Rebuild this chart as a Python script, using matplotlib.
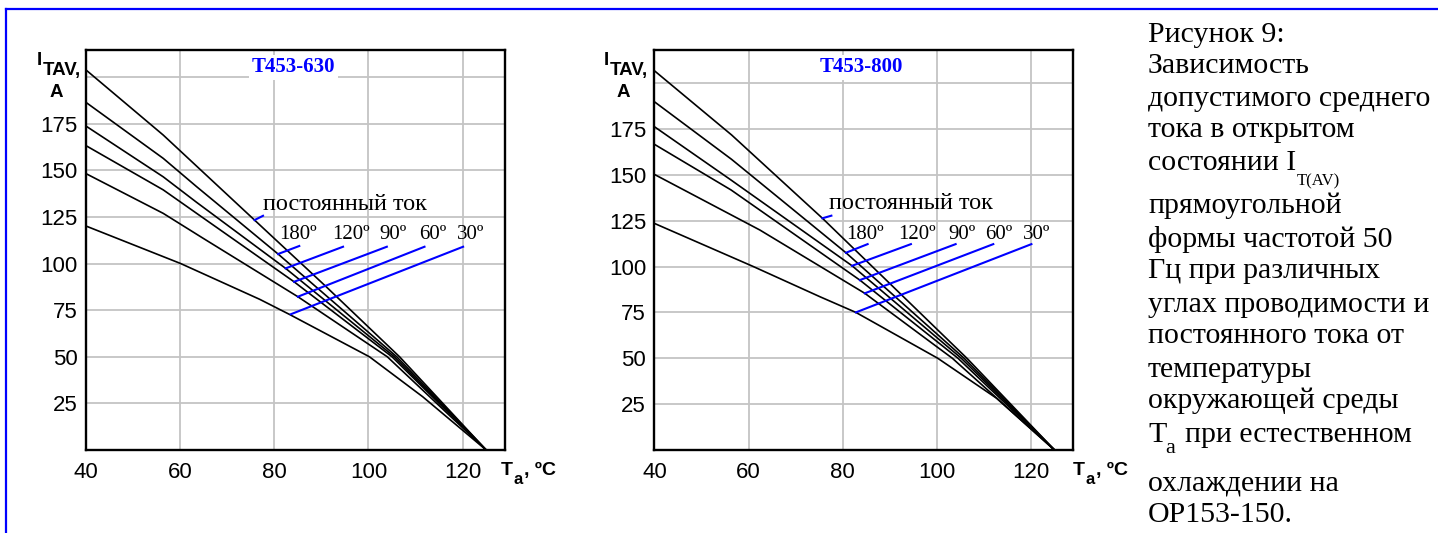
import matplotlib
matplotlib.use("Agg")
import matplotlib.pyplot as plt

# ---------------- data ----------------
x_ticks = [40, 60, 80, 100, 120]
y_ticks = [25, 50, 75, 100, 125, 150, 175, 200]
y_ticklabels = ["25", "50", "75", "100", "125", "150", "175", ""]
angle_labels = ["180º", "120º", "90º", "60º", "30º"]
dc_label = "постоянный ток"

# T453-630 (left)
l_dc_T = [40, 56.4, 75.8, 91.0, 106.6, 125]
l_dc_I = [203.8, 168.9, 123.3, 87.6, 50.0, 0]
l_180_T = [40, 56.4, 63.5, 80.8, 106.0, 125]
l_180_I = [186.4, 156.4, 141.2, 105.1, 50.0, 0]
l_120_T = [40, 56.4, 63.5, 82.4, 105.5, 125]
l_120_I = [173.7, 146.5, 132.8, 97.4, 50.0, 0]
l_90_T = [40, 56.4, 84.2, 105.0, 125]
l_90_I = [163.2, 139.5, 90.2, 50.0, 0]
l_60_T = [40, 56.4, 64.9, 85.0, 104.0, 125]
l_60_I = [148.2, 126.9, 113.5, 82.2, 50.0, 0]
l_30_T = [40, 60.1, 76.9, 83.3, 100.2, 111.5, 125]
l_30_I = [120.1, 100.0, 80.8, 72.6, 50.0, 28.6, 0]

# T453-800 (right)
r_dc_T = [40, 56.4, 75.7, 106.4, 125]
r_dc_I = [206.7, 171.7, 126.3, 50.0, 0]
r_180_T = [40, 56.4, 80.7, 105.8, 125]
r_180_I = [189.8, 158.4, 107.5, 50.0, 0]
r_120_T = [40, 56.3, 82.0, 105.2, 125]
r_120_I = [176.2, 147.1, 100.4, 50.0, 0]
r_90_T = [40, 56.3, 83.65, 104.5, 125]
r_90_I = [166.6, 141.7, 92.6, 50.0, 0]
r_60_T = [40, 62.4, 84.7, 103.3, 125]
r_60_I = [150.2, 119.9, 85.4, 50.0, 0]
r_30_T = [40, 61.0, 75.2, 82.8, 100.2, 112.7, 125]
r_30_I = [123.5, 100.0, 83.5, 75.0, 50.0, 28.2, 0]

# leader lines (curve end -> label end), dc first
l_lead_lo_T = [75.8, 80.8, 82.4, 84.2, 85.0, 83.5]
l_lead_lo_I = [123.3, 105.1, 97.4, 90.2, 82.2, 72.8]
l_lead_hi_T = [77.6, 85.3, 94.6, 103.9, 111.9, 120.1]
l_lead_hi_I = [125.6, 109.4, 109.0, 109.0, 109.0, 109.0]
r_lead_lo_T = [75.7, 80.7, 82.0, 83.65, 84.7, 82.8]
r_lead_lo_I = [126.3, 107.5, 100.4, 92.6, 85.4, 75.0]
r_lead_hi_T = [77.6, 85.3, 94.5, 104.0, 112.0, 120.1]
r_lead_hi_I = [127.7, 112.2, 112.2, 112.2, 112.2, 112.2]

caption_lines = [
    "Рисунок 9:", "Зависимость", "допустимого среднего", "тока в открытом",
    "состоянии I", "прямоугольной", "формы частотой 50", "Гц при различных",
    "углах проводимости и", "постоянного тока от", "температуры",
    "окружающей среды", "Т", "охлаждении на", "ОР153-150.",
]
caption_baselines = [41.7, 72.7, 106, 136.7, 170, 213.3, 246.7, 278.3, 311.7,
                     343.3, 376.7, 408.3, 441.7, 490, 521.7]

# ---------------- figure ----------------
W, H = 1438, 533
fig = plt.figure(figsize=(W / 100, H / 100), dpi=100)


def fx(px):
    return px / W


def fy(py):
    return 1 - py / H


BLUE = "#0000ff"
SANS = "Liberation Sans"
SERIF = "Liberation Serif"

# blue frame (top and left)
fig.add_artist(plt.Line2D([fx(6), 1.0], [fy(9.3), fy(9.3)], color=BLUE, lw=1.6))
fig.add_artist(plt.Line2D([fx(6), fx(6)], [fy(9.3), 0.0], color=BLUE, lw=1.6))


def make_chart(left_px, right_px, ytop, curves, lead, title, title_cx,
               dc_pos, ang_T, ang_I, ylab_dx, xlab_x):
    ax = fig.add_axes([fx(left_px), fy(450), (right_px - left_px) / W, 400 / H])
    ax.set_xlim(40, 129)
    ax.set_ylim(0, ytop)
    ax.set_xticks(x_ticks)
    ax.set_yticks(y_ticks)
    ax.set_xticklabels([str(v) for v in x_ticks], fontfamily=SANS, fontsize=16)
    ax.set_yticklabels(y_ticklabels, fontfamily=SANS, fontsize=16)
    ax.tick_params(axis="both", length=0)
    ax.tick_params(axis="x", pad=9.0)
    ax.tick_params(axis="y", pad=6)
    ax.grid(True, color="#c4c4c4", lw=1.3)
    ax.set_axisbelow(True)
    for s in ax.spines.values():
        s.set_linewidth(1.7)
        s.set_color("black")
    for T, I in curves:
        ax.plot(T, I, color="black", lw=1.2, solid_joinstyle="miter")
    lo_T, lo_I, hi_T, hi_I = lead
    for a, b, c, d in zip(lo_T, lo_I, hi_T, hi_I):
        ax.plot([a, c], [b, d], color=BLUE, lw=1.5)
    ax.text(dc_pos[0], dc_pos[1], dc_label, fontfamily=SERIF, fontsize=17.5,
            ha="left", va="center")
    for t, lab in zip(ang_T, angle_labels):
        ax.text(t, ang_I, lab, fontfamily=SERIF, fontsize=15, ha="center",
                va="center")
    ax.text(fx(title_cx), fy(67.5), title, transform=fig.transFigure,
            fontfamily=SERIF, fontweight="bold", fontsize=15, color=BLUE,
            ha="center", va="center",
            bbox=dict(facecolor="white", edgecolor="none", pad=2))
    # y label I_TAV, A
    fig.text(fx(37 + ylab_dx), fy(65), "I", fontfamily=SANS, fontweight="bold",
             fontsize=13.5, va="baseline")
    fig.text(fx(42.5 + ylab_dx), fy(75), "TAV,", fontfamily=SANS,
             fontweight="bold", fontsize=13.5, va="baseline")
    fig.text(fx(50 + ylab_dx), fy(97), "A", fontfamily=SANS, fontweight="bold",
             fontsize=13.5, va="baseline")
    # x label T_a, ºC
    fig.text(fx(xlab_x), fy(475), "T", fontfamily=SANS, fontweight="bold",
             fontsize=14, va="baseline")
    fig.text(fx(xlab_x + 13), fy(484), "a", fontfamily=SANS,
             fontweight="bold", fontsize=12, va="baseline")
    fig.text(fx(xlab_x + 23), fy(475), ", ºC", fontfamily=SANS,
             fontweight="bold", fontsize=14, va="baseline")
    return ax


make_chart(86, 505, 214.5,
           [(l_dc_T, l_dc_I), (l_180_T, l_180_I), (l_120_T, l_120_I),
            (l_90_T, l_90_I), (l_60_T, l_60_I), (l_30_T, l_30_I)],
           (l_lead_lo_T, l_lead_lo_I, l_lead_hi_T, l_lead_hi_I),
           "T453-630", 293.5, (77.5, 131.4),
           [85.0, 96.2, 105.3, 113.6, 121.8], 115.3, 0, 501)

make_chart(654.4, 1073.3, 218,
           [(r_dc_T, r_dc_I), (r_180_T, r_180_I), (r_120_T, r_120_I),
            (r_90_T, r_90_I), (r_60_T, r_60_I), (r_30_T, r_30_I)],
           (r_lead_lo_T, r_lead_lo_I, r_lead_hi_T, r_lead_hi_I),
           "T453-800", 861.8, (77.2, 134.1),
           [84.7, 95.7, 105.3, 113.1, 121.2], 117.2, 567, 1073)

# caption
CAP_X = 1148
CAP_FS = 21.5
for line, base in zip(caption_lines, caption_baselines):
    fig.text(fx(CAP_X), fy(base), line, fontfamily=SERIF, fontsize=CAP_FS,
             va="baseline", ha="left")
fig.text(fx(1297), fy(185), "T(AV)", fontfamily=SERIF, fontsize=12,
         va="baseline", ha="left")
fig.text(fx(1165), fy(453.3), "а", fontfamily=SERIF, fontsize=16,
         va="baseline", ha="left")
fig.text(fx(1185), fy(441.7), "при естественном", fontfamily=SERIF,
         fontsize=CAP_FS, va="baseline", ha="left")

fig.savefig("out.png", dpi=100)
